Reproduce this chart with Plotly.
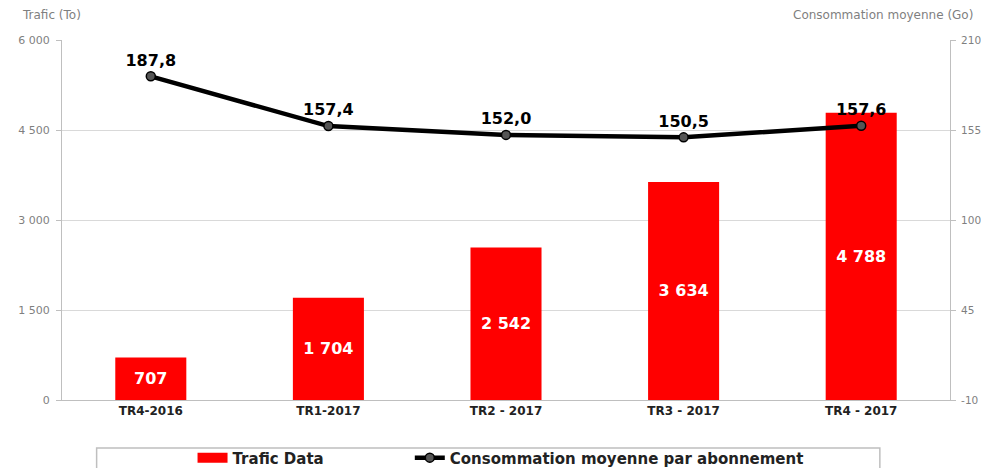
import plotly.graph_objects as go

trimestres = ['TR4-2016', 'TR1-2017', 'TR2 - 2017', 'TR3 - 2017', 'TR4 - 2017']
trafic_data = [707, 1704, 2542, 3634, 4788]
conso_moyenne = [187.8, 157.4, 152.0, 150.5, 157.6]
ticks_conso = [-10, 45, 100, 155, 210]

police = 'DejaVu Sans'
gris = '#7f7f7f'
espace = '&nbsp;' * 17

fig = go.Figure()
fig.add_trace(go.Bar(
    x = trimestres,
    y = trafic_data,
    showlegend = False,
    marker = dict(color='#ff0000', line=dict(width=0)),
    texttemplate = '<b>%{y:,}</b>',
    textposition = 'inside',
    insidetextanchor = 'middle',
    textfont = dict(color='white', size=16, family=police),
    yaxis = 'y',
))
# entree de legende en forme de rectangle rouge
fig.add_trace(go.Scatter(
    x = [None],
    y = [None],
    mode = 'lines',
    name = '<b>Trafic Data</b>' + espace,
    line = dict(color='#ff0000', width=10),
))
fig.add_trace(go.Scatter(
    x = trimestres,
    y = conso_moyenne,
    name = '<b>Consommation moyenne par abonnement</b>',
    mode = 'lines+markers+text',
    line = dict(color='black', width=4.5),
    marker = dict(size=9, color='#555555', line=dict(color='black', width=1.5)),
    texttemplate = '<b>%{y:.1f}</b>',
    textposition = 'top center',
    textfont = dict(color='black', size=16, family=police),
    yaxis = 'y2',
))

fig.update_layout(
    width = 981,
    height = 460,
    margin = dict(l=54, r=39, t=32, b=68, autoexpand=False),
    paper_bgcolor = 'white',
    plot_bgcolor = 'white',
    separators = ', ',
    font = dict(family=police, size=11, color=gris),
    bargap = 0.6,
    xaxis = dict(
        showgrid = False,
        showline = True,
        linecolor = '#bfbfbf',
        automargin = False,
        tickfont = dict(size=12, color='#222222', family=police),
        tickprefix = '<b>',
        ticksuffix = '</b>',
    ),
    yaxis = dict(
        range = [0, 6000],
        tickvals = [0, 1500, 3000, 4500, 6000],
        separatethousands = True,
        tickformat = ',d',
        showgrid = True,
        gridcolor = '#d9d9d9',
        zeroline = False,
        showline = True,
        linecolor = '#bfbfbf',
        automargin = False,
        ticks = 'outside',
        ticklen = 5,
        tickcolor = '#bfbfbf',
        ticklabelstandoff = 4,
        tickfont = dict(size=11, color=gris),
    ),
    yaxis2 = dict(
        range = [-10, 210],
        tickvals = ticks_conso,
        ticktext = [str(v) for v in ticks_conso],
        overlaying = 'y',
        side = 'right',
        showgrid = False,
        zeroline = False,
        showline = True,
        linecolor = '#bfbfbf',
        automargin = False,
        ticks = 'outside',
        ticklen = 5,
        tickcolor = '#bfbfbf',
        ticklabelstandoff = 3,
        tickfont = dict(size=10.5, color=gris),
    ),
    legend = dict(
        orientation = 'h',
        x = 0.147,
        xanchor = 'left',
        y = -0.115,
        yanchor = 'top',
        font = dict(size=15, color='#222222', family=police),
        bgcolor = 'rgba(0,0,0,0)',
    ),
    annotations = [
        dict(text='Trafic (To)', xref='paper', yref='paper', x=-0.047, y=1.044,
             xanchor='left', yanchor='bottom', showarrow=False,
             font=dict(size=12, color=gris)),
        dict(text='Consommation moyenne (Go)', xref='paper', yref='paper', x=1.028, y=1.044,
             xanchor='right', yanchor='bottom', showarrow=False,
             font=dict(size=12, color=gris)),
    ],
    shapes = [
        dict(type='rect', xref='paper', yref='paper', x0=0.039, x1=0.921, y0=-0.133, y1=-0.25,
             line=dict(color='#bfbfbf', width=1.5), fillcolor='rgba(0,0,0,0)'),
    ],
)

fig.write_html('out.html')
